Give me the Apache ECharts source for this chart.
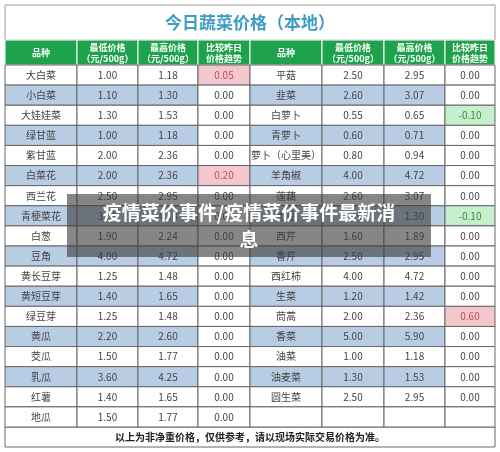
<!DOCTYPE html><html><head><meta charset="utf-8">
<script src="https://cdn.jsdelivr.net/npm/echarts@6/dist/echarts.min.js"></script>
<style>html,body{margin:0;background:#fff}#c{width:500px;height:452px}</style></head><body><div id="c"></div>
<script>
const leftNames=['大白菜','小白菜','大娃娃菜','绿甘蓝','紫甘蓝','白菜花','西兰花','青梗菜花','白葱','豆角','黄长豆芽','黄短豆芽','绿豆芽','黄瓜','茭瓜','乳瓜','红薯','地瓜'];
const leftLow=['1.00','1.10','1.30','1.00','2.00','2.00','2.50','3.50','1.90','4.00','1.25','1.40','1.25','2.20','1.50','3.60','1.40','1.50'];
const leftHigh=['1.18','1.30','1.53','1.18','2.36','2.36','2.95','4.13','2.24','4.72','1.48','1.65','1.48','2.60','1.77','4.25','1.65','1.77'];
const leftTrend=['0.05','0.00','0.00','0.00','0.00','0.20','0.00','0.00','0.00','0.00','0.00','0.00','0.00','0.00','0.00','0.00','0.00','0.00'];
const rightNames=['平菇','韭菜','白萝卜','青萝卜','萝卜（心里美）','羊角椒','莲藕','土豆','西芹','香芹','西红柿','生菜','茼蒿','香菜','油菜','油麦菜','圆生菜',''];
const rightLow=['2.50','2.60','0.55','0.60','0.80','4.00','2.60','1.10','1.60','2.50','4.00','1.20','2.00','5.00','1.00','1.30','2.50',''];
const rightHigh=['2.95','3.07','0.65','0.71','0.94','4.72','3.07','1.30','1.89','2.95','4.72','1.42','2.36','5.90','1.18','1.53','2.95',''];
const rightTrend=['0.00','0.00','-0.10','0.00','0.00','0.00','0.00','-0.10','0.00','0.00','0.00','0.00','0.60','0.00','0.00','0.00','0.00',''];
const headers=['品种','最低价格\n（元/500g）','最高价格\n（元/500g）','比较昨日\n价格趋势','品种','最低价格\n（元/500g）','最高价格\n（元/500g）','比较昨日\n价格趋势'];
const colEdges=[0,72,133,193,245,317,379,440,490];
const cols=[leftNames,leftLow,leftHigh,leftTrend,rightNames,rightLow,rightHigh,rightTrend];
const data=[];
for(let r=0;r<18;r++)for(let c=0;c<8;c++)data.push([c,r,cols[c][r]]);
function renderItem(params,api){
  const c=api.value(0),r=api.value(1),t=cols[c][r];
  const p0=api.coord([colEdges[c],r]),p1=api.coord([colEdges[c+1],r+1]);
  let fill='#fff',tc='#444';
  if(r%2==1&&r<17&&c%4!=3)fill='#b8cce4';
  if(c%4==3){ if(parseFloat(t)>0){fill='#f4c7ce';tc='#c0504d';} else if(parseFloat(t)<0){fill='#c6efce';tc='#3a8a3a';} }
  return {type:'group',children:[
    {type:'rect',shape:{x:p0[0],y:p0[1],width:p1[0]-p0[0],height:p1[1]-p0[1]},style:{fill:fill,stroke:'#666',lineWidth:1}},
    {type:'text',style:{text:t,x:(p0[0]+p1[0])/2,y:(p0[1]+p1[1])/2,align:'center',verticalAlign:'middle',fill:tc,font:'10px "Noto Sans CJK SC"'}}
  ]};
}
const graphic=[
 {type:'rect',shape:{x:5,y:5,width:490,height:35},style:{fill:'#fff',stroke:'#999',lineWidth:1}},
 {type:'text',style:{text:'今日蔬菜价格（本地）',x:250,y:23,align:'center',verticalAlign:'middle',fill:'#3d9cc4',font:'bold 17px "Noto Sans CJK SC"'}},
 {type:'rect',shape:{x:5,y:427,width:490,height:20},style:{fill:'#fff',stroke:'#666',lineWidth:1}},
 {type:'text',style:{text:'以上为非净重价格，仅供参考，请以现场实际交易价格为准。',x:250,y:437,align:'center',verticalAlign:'middle',fill:'#222',font:'bold 10px "Noto Sans CJK SC"'}}
];
for(let c=0;c<8;c++){
 graphic.push({type:'rect',shape:{x:5+colEdges[c],y:40,width:colEdges[c+1]-colEdges[c],height:25},style:{fill:'#1ea34c',stroke:'#fff',lineWidth:1}});
 graphic.push({type:'text',style:{text:headers[c],x:5+(colEdges[c]+colEdges[c+1])/2,y:53,align:'center',verticalAlign:'middle',fill:'#fff',font:'bold 9px "Noto Sans CJK SC"',lineHeight:11}});
}
graphic.push({type:'rect',z:100,shape:{x:67,y:194,width:364,height:63},style:{fill:'rgba(60,60,60,0.62)'}});
graphic.push({type:'text',z:101,style:{text:'疫情菜价事件/疫情菜价事件最新消\n息',x:249,y:226,align:'center',verticalAlign:'middle',fill:'#fff',font:'bold 19px "Noto Sans CJK SC"',lineHeight:27}});
const chart=echarts.init(document.getElementById('c'));
chart.setOption({animation:false,
 grid:{left:5,right:5,top:65,bottom:25},
 xAxis:{type:'value',min:0,max:490,show:false},
 yAxis:{type:'value',min:0,max:18,inverse:true,show:false},
 series:[{type:'custom',renderItem:renderItem,data:data,clip:false}],
 graphic:graphic});
</script></body></html>
